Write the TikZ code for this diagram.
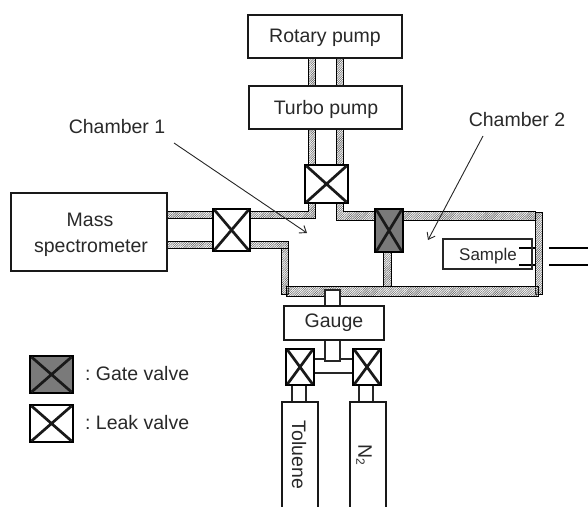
\documentclass[tikz,border=0pt]{standalone}
\usepackage{fontspec}
\setmainfont{Liberation Sans}
\usetikzlibrary{patterns.meta,arrows.meta}
\definecolor{ink}{gray}{0.16}
\tikzset{
  x=1pt,y=-1pt,
  every node/.style={inner sep=0pt,outer sep=0pt,text=ink,font=\fontsize{19.5}{22}\selectfont},
  box/.style={draw=black!90,line width=2pt,fill=white},
  pipe/.style={draw=black,line width=0.9pt,pattern={Lines[angle=45,distance=1.6pt,line width=0.6pt]},pattern color=black!60},
  plain/.style={draw=black!85,line width=1.3pt,fill=white},
  valveframe/.style={draw=black,line width=1.5pt},
  cross/.style={draw=black!90,line width=2.7pt},
  callout/.style={draw=black!85,line width=0.9pt,-{Straight Barb[length=6pt,width=9pt]}},
}
\newcommand{\valve}[5]{%
  \node[valveframe,fill=white,minimum width={#4-#2},minimum height={#5-#3},anchor=north west] (#1) at (#2,#3) {};
  \draw[cross] ([xshift=1.5pt,yshift=-1pt]#1.north west) -- ([xshift=-1.5pt,yshift=1pt]#1.south east) ([xshift=-1.5pt,yshift=-1pt]#1.north east) -- ([xshift=1.5pt,yshift=1pt]#1.south west);}
\newcommand{\gatevalve}[5]{%
  \node[valveframe,fill=black!52,minimum width={#4-#2},minimum height={#5-#3},anchor=north west] (#1) at (#2,#3) {};
  \draw[cross] ([xshift=1.5pt,yshift=-1pt]#1.north west) -- ([xshift=-1.5pt,yshift=1pt]#1.south east) ([xshift=-1.5pt,yshift=-1pt]#1.north east) -- ([xshift=1.5pt,yshift=1pt]#1.south west);}
\begin{document}
\begin{tikzpicture}
\useasboundingbox (0,0) rectangle (588,506);
\clip (0,0) rectangle (588,506);
% hatched pipes
\draw[pipe] (308,58) rectangle (315,86);
\draw[pipe] (336,58) rectangle (343,86);
\draw[pipe] (308,129) -- (315,129) -- (315,218) -- (167,218) -- (167,211) -- (308,211) -- cycle;
\draw[pipe] (336,129) -- (343,129) -- (343,211) -- (535,211) -- (535,220) -- (336,220) -- cycle;
\draw[pipe] (167,241) rectangle (288,248);
\draw[pipe] (281,248) rectangle (288,294);
\draw[pipe] (383,252) rectangle (391,286);
\draw[pipe] (535,212) rectangle (542,294);
\draw[pipe] (286,286) rectangle (538,296);
% feedthrough
\draw[line width=2.4pt,black] (519,248) -- (535,248) (549,248) -- (588,248);
\draw[line width=2.4pt,black] (519,265) -- (535,265) (549,265) -- (588,265);
% boxes
\node[box,minimum width=154pt,minimum height=43pt,anchor=north west] (rotary) at (248,15) {};
\node at (325,37.5) {Rotary pump};
\node[box,minimum width=153pt,minimum height=43pt,anchor=north west] (turbo) at (249,86) {};
\node at (326,109) {Turbo pump};
\node[box,minimum width=156pt,minimum height=78pt,anchor=north west] (mass) at (11,193) {};
\node (masst) at (90,220) {Mass};
\node (spec) at (91,248) {spectrometer};
\node[plain,fill=none,minimum width=89pt,minimum height=30pt,anchor=north west] (sample) at (443,239) {};
\node[font=\fontsize{17}{20}\selectfont] (samplet) at (488,256) {Sample};
% white pipes
\draw[plain] (325,290) rectangle (340,306);
\draw[plain] (325,340) rectangle (340,361);
\draw[plain] (314,359) -- (325,359) (340,359) -- (353,359) (314,373) -- (353,373);
\draw[plain] (292,385) rectangle (306,402);
\draw[plain] (359,385) rectangle (373,402);
\node[box,minimum width=100pt,minimum height=34pt,anchor=north west] (gauge) at (284,306) {};
\node at (334,323) {Gauge};
% tanks
\draw[box] (282,510) -- (282,402) -- (318,402) -- (318,510);
\draw[box] (350,510) -- (350,402) -- (386,402) -- (386,510);
\node[rotate=-90] (toluene) at (299,455) {Toluene};
\node[rotate=-90] (n2) at (364,455) {N\raisebox{-2pt}{\fontsize{12}{14}\selectfont 2}};
% valves
\valve{vtop}{305}{165}{348}{203}
\valve{vmass}{213}{209}{250}{251}
\gatevalve{vgate}{375}{209}{403}{252}
\valve{vtol}{286}{349}{314}{385}
\valve{vn}{353}{349}{381}{385}
% labels and callouts
\node (ch1) at (117,127) {Chamber 1};
\node (ch2) at (517,120) {Chamber 2};
\coordinate (t1) at (307,233);
\coordinate (s1) at (174,143);
\coordinate (t2) at (428,240);
\coordinate (s2) at (483,136);
\draw[callout] (s1) -- (t1);
\draw[callout] (s2) -- (t2);
% legend
\gatevalve{lgate}{30}{356}{73}{393}
\valve{lleak}{30}{405}{73}{442}
\node[anchor=west] (lg) at (85,374) {:\hspace{5.5pt}Gate valve};
\node[anchor=west] (ll) at (85,423) {:\hspace{5.5pt}Leak valve};
\end{tikzpicture}
\end{document}
